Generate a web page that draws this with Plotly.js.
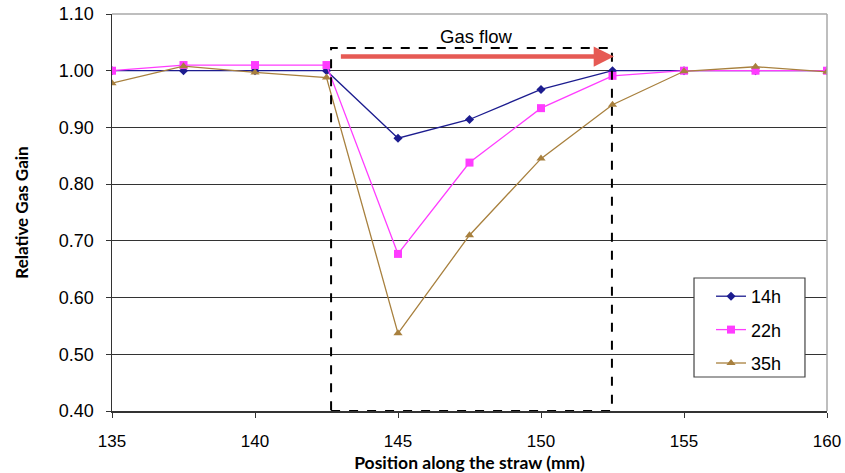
<!DOCTYPE html>
<html>
<head>
<meta charset="utf-8">
<script src="https://cdn.plot.ly/plotly-3.0.1.min.js"></script>
<style>html,body{margin:0;padding:0;background:#fff}#chart{width:845px;height:473px}</style>
</head>
<body>
<div id="chart"></div>
<script>
const positions = [135, 137.5, 140, 142.5, 145, 147.5, 150, 152.5, 155, 157.5, 160];
const gain14h = [1.000, 1.000, 1.000, 1.000, 0.881, 0.914, 0.967, 1.000, 1.000, 1.000, 1.000];
const gain22h = [1.000, 1.010, 1.010, 1.010, 0.677, 0.838, 0.934, 0.991, 1.000, 1.000, 1.000];
const gain35h = [0.978, 1.008, 0.997, 0.988, 0.537, 0.710, 0.845, 0.940, 0.999, 1.007, 0.998];
const seriesNames = ['14h', '22h', '35h'];
const xTicks = [135, 140, 145, 150, 155, 160];
const yTicks = [0.40, 0.50, 0.60, 0.70, 0.80, 0.90, 1.00, 1.10];

const traces = [
  {x: positions, y: gain14h, name: seriesNames[0], legendgroup: 'a', mode: 'lines+markers',
   line: {color: '#1c1c8f', width: 1.3}, marker: {symbol: 'diamond', size: 7, color: '#1c1c8f'}},
  {x: positions, y: gain22h, name: seriesNames[1], legendgroup: 'b', mode: 'lines+markers',
   line: {color: '#ff3cff', width: 1.3}, marker: {symbol: 'square', size: 8, color: '#ff3cff'}},
  {x: positions, y: gain35h, name: seriesNames[2], legendgroup: 'c', mode: 'lines+markers',
   line: {color: '#a8803e', width: 1.3}, marker: {symbol: 'triangle-up', size: 8, color: '#a8803e'}}
];

const layout = {
  width: 845, height: 473,
  margin: {l: 112, r: 18, t: 14, b: 62},
  paper_bgcolor: '#fff', plot_bgcolor: '#fff',
  font: {family: 'Liberation Sans, Arial, sans-serif', color: '#000', size: 17},
  showlegend: true,
  legend: {
    x: 0.8378, y: 0.335, xanchor: 'left', yanchor: 'top',
    bgcolor: 'rgba(0,0,0,0)', borderwidth: 0,
    font: {size: 18, family: 'Liberation Sans, Arial, sans-serif'},
    traceorder: 'grouped', tracegroupgap: 7
  },
  xaxis: {
    range: [135, 160], tickvals: xTicks, ticktext: xTicks.map(String),
    showgrid: false, zeroline: false,
    showline: true, linecolor: '#333', linewidth: 1.5,
    ticks: 'outside', ticklen: 5, tickcolor: '#333', tickwidth: 1,
    tickfont: {size: 17}, ticklabelstandoff: 9,
    title: {text: 'Position along the straw (mm)', font: {family: 'Lato, sans-serif', size: 17.5, weight: 'bold'}, standoff: 7}
  },
  yaxis: {
    range: [0.40, 1.10], tickvals: yTicks, ticktext: yTicks.map(v => v.toFixed(2)),
    showgrid: true, gridcolor: '#333', gridwidth: 1, zeroline: false,
    showline: true, linecolor: '#333', linewidth: 1.5,
    ticks: 'outside', ticklen: 5, tickcolor: '#333', tickwidth: 1,
    tickfont: {size: 18}, ticklabelstandoff: 8,
    title: {text: 'Relative Gas Gain', font: {family: 'Lato, sans-serif', size: 17, weight: 'bold'}, standoff: 26}
  },
  shapes: [
    {type: 'line', xref: 'paper', yref: 'paper', x0: 0, x1: 1, y0: 1, y1: 1, line: {color: '#a8a8a8', width: 1.5}},
    {type: 'line', xref: 'paper', yref: 'paper', x0: 1, x1: 1, y0: 0, y1: 1, line: {color: '#a8a8a8', width: 1.5}},
    {type: 'rect', xref: 'x', yref: 'y', x0: 142.66, x1: 152.48, y0: 0.40, y1: 1.040,
     line: {color: '#000', width: 2, dash: 'dash'}, layer: 'above'},
    {type: 'rect', xref: 'paper', yref: 'paper', x0: 0.814, x1: 0.9692, y0: 0.0856, y1: 0.335,
     line: {color: '#444', width: 1.2}, fillcolor: '#fff', layer: 'above'}
  ],
  annotations: [
    {xref: 'x', yref: 'y', x: 147.75, y: 1.061, text: 'Gas flow', showarrow: false,
     font: {size: 18.5, color: '#000'}},
    {xref: 'x', yref: 'y', axref: 'x', ayref: 'y', x: 152.55, y: 1.025, ax: 142.95, ay: 1.025,
     text: '', showarrow: true, arrowhead: 2, arrowsize: 0.9, arrowwidth: 4.5, arrowcolor: '#e65a54'}
  ]
};

Plotly.newPlot('chart', traces, layout, {displayModeBar: false, staticPlot: true});
</script>
</body>
</html>
